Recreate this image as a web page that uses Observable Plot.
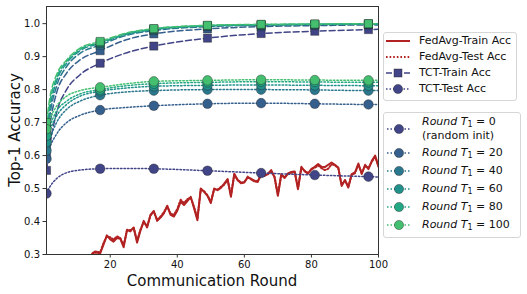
<!DOCTYPE html>
<html><head><meta charset="utf-8">
<script src="https://cdn.jsdelivr.net/npm/d3@7"></script>
<script src="https://cdn.jsdelivr.net/npm/@observablehq/plot@0.6"></script>
<style>
body{margin:0;background:#fff;font-family:"DejaVu Sans",sans-serif;}
#wrap{position:relative;width:527px;height:294px;overflow:hidden;}
.leg{position:absolute;border:1px solid #d6d6d6;border-radius:3px;background:rgba(255,255,255,0.85);box-sizing:border-box;}
.txt{position:absolute;font-size:11px;color:#111;white-space:nowrap;line-height:13px;}
.hd{position:absolute;}
.axl{position:absolute;font-size:15px;color:#111;white-space:nowrap;}
sub{font-size:8px;vertical-align:-2px;font-style:normal;}
</style></head><body><div id="wrap"></div>
<script>
// ---------- data ----------
const fedStartRound = 14;
const fedTrain = [0.290,0.305,0.306,0.303,0.330,0.358,0.346,0.339,0.350,0.348,0.322,0.375,0.370,0.382,0.336,0.372,0.402,0.382,0.420,0.432,0.402,0.412,0.425,0.448,0.420,0.415,0.433,0.460,0.450,0.462,0.475,0.440,0.404,0.500,0.490,0.478,0.456,0.500,0.495,0.502,0.515,0.529,0.475,0.545,0.525,0.516,0.518,0.536,0.528,0.522,0.520,0.544,0.538,0.545,0.556,0.534,0.478,0.544,0.532,0.546,0.550,0.552,0.498,0.566,0.552,0.545,0.560,0.566,0.574,0.566,0.565,0.572,0.579,0.572,0.564,0.508,0.526,0.503,0.544,0.549,0.576,0.544,0.572,0.559,0.584,0.600,0.566];
const fedTest = [0.292,0.308,0.309,0.306,0.335,0.355,0.352,0.345,0.355,0.350,0.328,0.372,0.374,0.380,0.342,0.375,0.398,0.386,0.418,0.430,0.405,0.415,0.428,0.445,0.424,0.420,0.438,0.466,0.456,0.468,0.472,0.445,0.410,0.497,0.492,0.480,0.460,0.498,0.497,0.505,0.512,0.526,0.480,0.541,0.527,0.518,0.520,0.533,0.530,0.524,0.523,0.541,0.540,0.543,0.553,0.536,0.482,0.541,0.534,0.544,0.548,0.550,0.502,0.562,0.554,0.547,0.558,0.563,0.570,0.562,0.556,0.560,0.574,0.570,0.562,0.512,0.524,0.506,0.541,0.547,0.572,0.547,0.569,0.562,0.581,0.596,0.568];

const tctRounds = [1,2,4,7,11,17,25,33,49,65,81,97,100];
const markerRounds = [1,17,33,49,65,81,97];
const t1Values = [0,20,40,60,80,100];
const tctTrain = [
  [0.555,0.630,0.730,0.800,0.845,0.880,0.912,0.932,0.956,0.970,0.977,0.982,0.983],
  [0.600,0.690,0.790,0.850,0.890,0.918,0.952,0.969,0.984,0.991,0.994,0.996,0.996],
  [0.630,0.720,0.810,0.870,0.910,0.935,0.965,0.979,0.991,0.995,0.997,0.998,0.998],
  [0.655,0.740,0.825,0.880,0.918,0.940,0.968,0.982,0.993,0.996,0.998,0.999,0.999],
  [0.680,0.760,0.835,0.885,0.922,0.943,0.970,0.984,0.994,0.997,0.998,0.999,0.999],
  [0.700,0.775,0.845,0.890,0.926,0.946,0.972,0.985,0.995,0.998,0.999,1.000,1.000]
];
const tctTest = [
  [0.485,0.505,0.530,0.548,0.556,0.560,0.561,0.560,0.554,0.547,0.541,0.536,0.535],
  [0.590,0.625,0.665,0.700,0.722,0.738,0.746,0.751,0.757,0.759,0.757,0.755,0.755],
  [0.615,0.650,0.700,0.740,0.765,0.783,0.793,0.797,0.800,0.800,0.799,0.797,0.797],
  [0.640,0.675,0.720,0.755,0.780,0.795,0.805,0.810,0.813,0.814,0.813,0.812,0.812],
  [0.660,0.690,0.735,0.765,0.787,0.800,0.812,0.818,0.822,0.824,0.823,0.822,0.822],
  [0.680,0.710,0.750,0.780,0.797,0.807,0.818,0.825,0.828,0.830,0.829,0.828,0.828]
];
const colors = ["#414487","#355f8d","#2a788e","#21918c","#22a884","#44bf70"];
const red = "#b22222";
const xTicks = [20,40,60,80,100];
const yTicks = [0.3,0.4,0.5,0.6,0.7,0.8,0.9,1.0];

// ---------- tables ----------
const fed = fedTrain.map((v,i)=>({x: fedStartRound+i, train: v, test: fedTest[i]}));
const marks = [
  Plot.line(fed,{x:"x",y:"train",stroke:red,strokeWidth:2}),
  Plot.line(fed,{x:"x",y:"test",stroke:red,strokeWidth:2,strokeDasharray:"1.6,2"})
];
t1Values.forEach((t,i)=>{
  const rows = tctRounds.map((r,j)=>({x:r, train:tctTrain[i][j], test:tctTest[i][j]}));
  const mk = rows.filter(d=>markerRounds.includes(d.x));
  marks.push(
    Plot.line(rows,{x:"x",y:"train",curve:"monotone-x",stroke:colors[i],strokeWidth:1.5,strokeDasharray:"6,3"}),
    Plot.line(rows,{x:"x",y:"test",curve:"monotone-x",stroke:colors[i],strokeWidth:1.5,strokeDasharray:"1.5,2"}),
    Plot.dot(mk,{x:"x",y:"train",symbol:"square",r:4.6,fill:colors[i],stroke:"#222",strokeWidth:0.6,strokeOpacity:0.7}),
    Plot.dot(mk,{x:"x",y:"test",symbol:"circle",r:4.8,fill:colors[i],stroke:"#222",strokeWidth:0.6,strokeOpacity:0.7})
  );
});
marks.push(
  Plot.frame({stroke:"#333",strokeWidth:1}),
  Plot.axisX({ticks:xTicks,tickSize:3.5,tickPadding:3,fontSize:10,label:null,stroke:"#333"}),
  Plot.axisY({ticks:yTicks,tickSize:3.5,tickPadding:3,fontSize:10,label:null,tickFormat:d3.format(".1f"),stroke:"#333"})
);

const chart = Plot.plot({
  width:527, height:294,
  marginLeft:46, marginRight:149, marginTop:6, marginBottom:40,
  x:{domain:[1,100]},
  y:{domain:[0.3,1.052]},
  clip:true,
  style:{fontFamily:"DejaVu Sans",fontSize:"10px",color:"#111",background:"#fff"},
  marks
});
const wrap = document.getElementById("wrap");
wrap.appendChild(chart);

// ---------- axis labels ----------
const xl = document.createElement("div");
xl.className="axl"; xl.textContent="Communication Round";
xl.style.left="212px"; xl.style.top="272px"; xl.style.transform="translateX(-50%)";
wrap.appendChild(xl);
const yl = document.createElement("div");
yl.className="axl"; yl.textContent="Top-1 Accuracy";
yl.style.left="15px"; yl.style.top="130px"; yl.style.transform="translate(-50%,-50%) rotate(-90deg)";
wrap.appendChild(yl);

// ---------- legends ----------
function box(l,t,w,h){const b=document.createElement("div");b.className="leg";Object.assign(b.style,{left:l+"px",top:t+"px",width:w+"px",height:h+"px"});wrap.appendChild(b);}
function handle(cx,cy,color,dash,sym,sw){
  const s=d3.create("svg").attr("class","hd").attr("width",30).attr("height",14)
    .style("left",(cx-15)+"px").style("top",(cy-7)+"px");
  s.append("line").attr("x1",3).attr("x2",27).attr("y1",7).attr("y2",7).attr("stroke",color).attr("stroke-width",sw||1.5).attr("stroke-dasharray",dash);
  if(sym==="square") s.append("rect").attr("x",11).attr("y",3).attr("width",8).attr("height",8).attr("fill",color).attr("stroke","#222").attr("stroke-opacity",0.7).attr("stroke-width",0.6);
  if(sym==="circle") s.append("circle").attr("cx",15).attr("cy",7).attr("r",4.6).attr("fill",color).attr("stroke","#222").attr("stroke-opacity",0.7).attr("stroke-width",0.6);
  wrap.appendChild(s.node());
}
function label(x,y,html){const d=document.createElement("div");d.className="txt";d.innerHTML=html;d.style.left=x+"px";d.style.top=(y-7)+"px";wrap.appendChild(d);}

const legend1 = ["FedAvg-Train Acc","FedAvg-Test Acc","TCT-Train Acc","TCT-Test Acc"];
box(383,32,134,69);
const l1y=[41,57,73,89];
handle(398,l1y[0],red,null,null,2);
handle(398,l1y[1],red,"1.6,2",null,2);
handle(398,l1y[2],colors[0],"6,3","square");
handle(398,l1y[3],colors[0],"1.5,2","circle");
legend1.forEach((s,i)=>label(419,l1y[i],s));

box(383,112,138,126);
const l2y=[129,153,171,189,207,225];
t1Values.forEach((t,i)=>{
  handle(399,l2y[i],colors[i],"1.5,2","circle");
  if(i===0){
    label(422,122,`<i>Round T</i><sub>1</sub> = ${t}`);
    label(422,136,"(random init)");
  } else label(422,l2y[i],`<i>Round T</i><sub>1</sub> = ${t}`);
});
</script></body></html>
